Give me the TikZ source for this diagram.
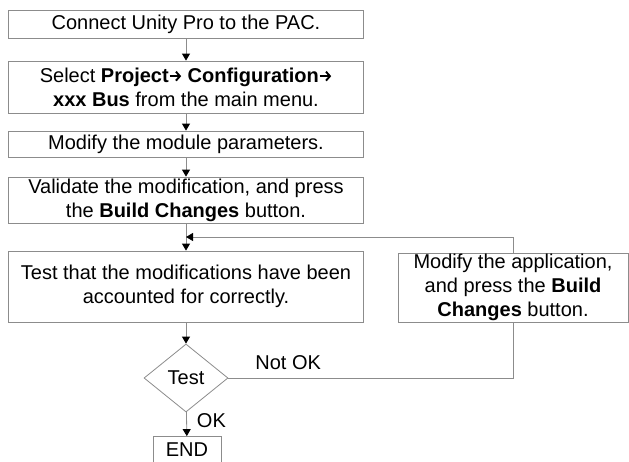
\documentclass[tikz,border=0pt]{standalone}
\usepackage{fontspec}
\setmainfont{Liberation Sans}
\usetikzlibrary{arrows.meta,shapes.geometric}
\newcommand{\menuarrow}{\tikz[baseline=0pt]\draw[line width=1.9pt, -{Straight Barb[length=4pt,width=9pt]}] (0.5pt,6pt) -- (12pt,6pt);}
\definecolor{linegray}{RGB}{140,140,140}
\begin{document}
\begin{tikzpicture}[x=1pt,y=-1pt] % блок-схема
\tikzstyle{stepbox} = [draw=linegray, line width=0.8pt, fill=white, align=center, inner xsep=4pt, inner ysep=1pt, font=\fontsize{20}{24}\selectfont] % step box style
\tikzstyle{decision} = [diamond, draw=linegray, line width=0.8pt, fill=white, inner sep=0pt, minimum width=84pt, minimum height=68pt, font=\fontsize{20}{24}\selectfont] % decision node style
\tikzstyle{tag} = [inner sep=0pt, font=\fontsize{20}{24}\selectfont] % подпись у стрелки
\tikzstyle{wire} = [draw=linegray, line width=0.8pt] % линия
\tikzstyle{flow} = [wire, -{Triangle[length=7pt,width=8pt,color=black]}] % линия со стрелкой
\useasboundingbox (0,0) rectangle (629,461);

\node[stepbox, minimum width=355pt, minimum height=28pt] (connect) at (186,24) {Connect Unity Pro to the PAC.};
\node[stepbox, minimum width=355pt, minimum height=52pt] (select) at (186,87) {Select \textbf{Project\menuarrow\ Configuration\menuarrow}\\\textbf{xxx Bus} from the main menu.};
\node[stepbox, minimum width=355pt, minimum height=26pt] (modify) at (186,144) {Modify the module parameters.};
\node[stepbox, minimum width=355pt, minimum height=46pt] (validate) at (186,200) {Validate the modification, and press\\the \textbf{Build Changes} button.};
\node[stepbox, minimum width=355pt, minimum height=71pt] (test) at (186,286.5) {Test that the modifications have been\\accounted for correctly.};
\node[stepbox, minimum width=230pt, minimum height=69pt] (fix) at (513,287.5) {Modify the application,\\and press the \textbf{Build}\\\textbf{Changes} button.};
\node[decision] (check) at (186,378) {Test};
\node[stepbox, minimum width=68pt, minimum height=26pt] (finish) at (187,449.5) {END};
\coordinate (join) at (186,237); % точка возврата

\draw[flow] (connect) -- (select);
\draw[flow] (select) -- (modify);
\draw[flow] (modify) -- (validate);
\draw[flow] (validate) -- (test);
\draw[flow] (test) -- (check);
\draw[flow] (check) -- node[tag, pos=0.35, right=10pt] {OK} (finish);
\draw[wire] (check.east) -| node[tag, pos=0.105, above=8pt] {Not OK} (fix.south);
\draw[flow] (fix.north) |- (join);
\end{tikzpicture}
\end{document}
